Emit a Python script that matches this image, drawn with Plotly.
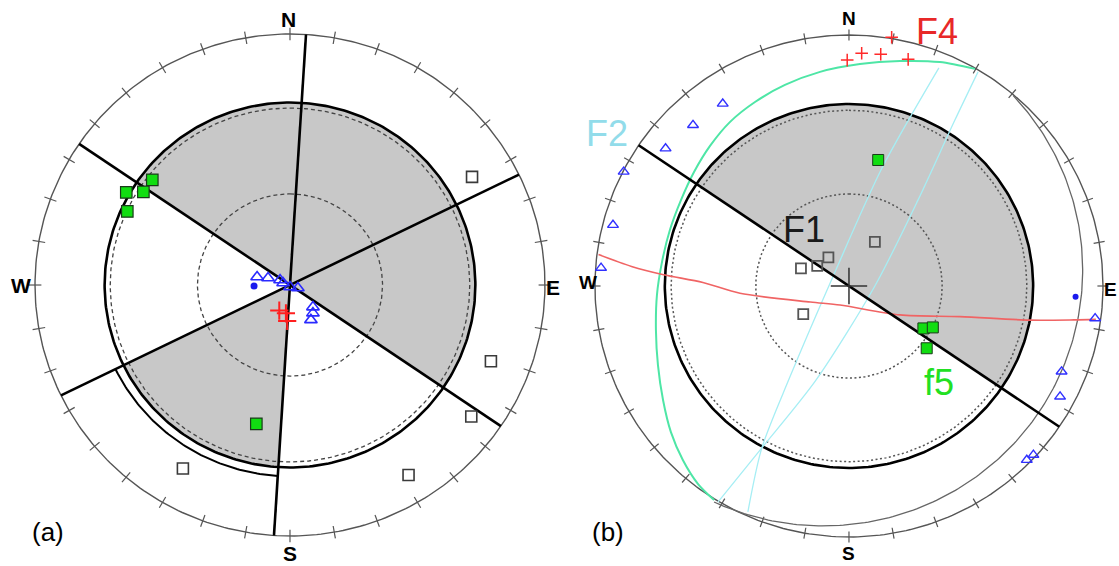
import numpy as np
import plotly.graph_objects as go

# ======================= DATA (normalised net coordinates: x = east, y = north, primitive radius = 1) =======================
# ---- panel (a) ----
A_PLANE_STRIKES = [3.6, 304.2, 63.9]                 # vertical planes, azimuth of strike (deg)
A_SHADED_SECTORS = [(-55.8, 124.2), (183.6, 243.9)]  # shaded azimuth ranges inside limit circle
A_LIMIT_RADIUS = 0.727
A_DASHED_RADII = [0.705, 0.363]
A_EXTRA_ARC = [0.762, 183.6, 243.9]                  # radius, azimuth from, azimuth to
A_GREEN_X = [-0.540, -0.642, -0.575, -0.638, -0.132]
A_GREEN_Y = [0.419, 0.369, 0.371, 0.293, -0.553]
A_OPEN_X = [0.714, 0.788, 0.711, -0.420, 0.465]
A_OPEN_Y = [0.431, -0.304, -0.524, -0.731, -0.757]
A_TRI_X = [-0.129, -0.086, -0.039, -0.027, 0.0, 0.031, 0.090, 0.090, 0.082]
A_TRI_Y = [0.032, 0.028, 0.020, 0.008, -0.008, -0.012, -0.088, -0.112, -0.139]
A_DOT_X = [-0.141]
A_DOT_Y = [-0.004]
A_CROSS_X = [-0.042, -0.016, -0.011]
A_CROSS_Y = [-0.102, -0.113, -0.143]

# ---- panel (b) ----
B_PLANE_STRIKES = [304.1]
B_SHADED_SECTORS = [(-55.9, 124.1)]
B_LIMIT_RADIUS = 0.725
B_DOTTED_RADII = [0.700, 0.367]
B_SECOND_CIRCLE = [-0.100, 0.064, 1.020, 43.0, -115.0]   # centre x, centre y, radius, angle from, angle to
B_GREEN_X = [0.115, 0.293, 0.330, 0.306]
B_GREEN_Y = [0.502, -0.169, -0.165, -0.248]
B_OPEN_X = [0.102, -0.189, -0.125, -0.081, -0.180]
B_OPEN_Y = [0.176, 0.070, 0.080, 0.114, -0.112]
B_TRI_X = [-0.497, -0.614, -0.722, -0.887, -0.929, -0.976, 0.969, 0.837, 0.831, 0.700, 0.726]
B_TRI_Y = [0.726, 0.641, 0.548, 0.455, 0.243, 0.072, -0.129, -0.341, -0.441, -0.693, -0.673]
B_DOT_X = [0.892]
B_DOT_Y = [-0.043]
B_CROSS_X = [-0.007, 0.050, 0.125, 0.233, 0.168]
B_CROSS_Y = [0.900, 0.927, 0.923, 0.903, 0.991]
F4_X = [-0.986, -0.856, -0.730, -0.575, -0.429, -0.152, -0.035, 0.201, 0.437, 0.713, 0.886, 0.972]
F4_Y = [0.125, 0.078, 0.045, 0.014, -0.029, -0.064, -0.076, -0.115, -0.122, -0.136, -0.135, -0.133]
F5_X = [0.496, 0.358, 0.201, 0.043, -0.114, -0.252, -0.370, -0.469, -0.547, -0.610, -0.661,
        -0.705, -0.736, -0.756, -0.760, -0.752, -0.732, -0.701, -0.654, -0.594, -0.531]
F5_Y = [0.865, 0.892, 0.896, 0.884, 0.853, 0.801, 0.733, 0.653, 0.558, 0.454, 0.343,
        0.223, 0.096, -0.036, -0.175, -0.315, -0.454, -0.582, -0.693, -0.789, -0.853]
F2A_X = [0.354, 0.130, -0.055, -0.236, -0.343, -0.398]
F2A_Y = [0.869, 0.470, 0.056, -0.371, -0.645, -0.900]
F2B_X = [0.508, 0.417, 0.272, 0.102, -0.130, -0.343, -0.516]
F2B_Y = [0.853, 0.661, 0.343, 0.0, -0.375, -0.645, -0.861]

TICK_STEP = 10
CARDINALS = ["N", "E", "S", "W"]
PANEL_LABELS = ["(a)", "(b)"]
FAULT_LABELS = ["F1", "F2", "F4", "f5"]

# ======================= FIGURE =======================
fig = go.Figure()
FONT = "Liberation Sans, Arial, sans-serif"


def xy(r, az):
    az = np.radians(np.asarray(az, dtype=float))
    return r * np.sin(az), r * np.cos(az)


def add(tr, p):
    tr.update(xaxis="x" if p == "a" else "x2", yaxis="y" if p == "a" else "y2",
              hoverinfo="skip", showlegend=False)
    fig.add_trace(tr)


def circle(p, r, color, width, dash="solid"):
    t = np.linspace(0, 360, 361)
    x, y = xy(r, t)
    add(go.Scatter(x=x, y=y, mode="lines", line=dict(color=color, width=width, dash=dash)), p)


def sectors(p, secs, r):
    for a0, a1 in secs:
        t = np.linspace(a0, a1, 200)
        x, y = xy(r, t)
        add(go.Scatter(x=np.r_[0, x, 0], y=np.r_[0, y, 0], mode="lines", fill="toself",
                       fillcolor="#c8c8c8", line=dict(width=0, color="#c8c8c8")), p)


def ticks(p, color, inner, outer, width):
    xs, ys = [], []
    for az in range(0, 360, TICK_STEP):
        x0, y0 = xy(inner, az)
        x1, y1 = xy(outer, az)
        xs += [x0, x1, None]
        ys += [y0, y1, None]
    add(go.Scatter(x=xs, y=ys, mode="lines", line=dict(color=color, width=width)), p)


def planes(p, strikes):
    xs, ys = [], []
    for s in strikes:
        x0, y0 = xy(1.0, s)
        x1, y1 = xy(1.0, s + 180)
        xs += [x0, x1, None]
        ys += [y0, y1, None]
    add(go.Scatter(x=xs, y=ys, mode="lines", line=dict(color="black", width=2.6)), p)


# ---------- panel (a) ----------
sectors("a", A_SHADED_SECTORS, A_LIMIT_RADIUS)
circle("a", 1.0, "#555555", 1.4)
ticks("a", "#555555", 0.975, 1.025, 1.2)
circle("a", A_DASHED_RADII[0], "#444444", 1.3, "4px,3px")
circle("a", A_DASHED_RADII[1], "#444444", 1.3, "4px,3px")
circle("a", A_LIMIT_RADIUS, "black", 2.6)
ta = np.linspace(A_EXTRA_ARC[1], A_EXTRA_ARC[2], 80)
xa, ya = xy(A_EXTRA_ARC[0], ta)
add(go.Scatter(x=xa, y=ya, mode="lines", line=dict(color="black", width=2)), "a")
planes("a", A_PLANE_STRIKES)
add(go.Scatter(x=A_OPEN_X, y=A_OPEN_Y, mode="markers",
               marker=dict(symbol="square-open", size=11, color="#3a3a3a", line=dict(width=1.6))), "a")
add(go.Scatter(x=A_GREEN_X, y=A_GREEN_Y, mode="markers",
               marker=dict(symbol="square", size=11.5, color="#11dd11", line=dict(color="#1a3a1a", width=1.2))), "a")
add(go.Scatter(x=A_TRI_X, y=A_TRI_Y, mode="markers",
               marker=dict(symbol="triangle-up-open", size=11, color="#2a2aff", line=dict(width=1.6))), "a")
add(go.Scatter(x=A_DOT_X, y=A_DOT_Y, mode="markers", marker=dict(symbol="circle", size=7, color="#1a1aee")), "a")
add(go.Scatter(x=A_CROSS_X, y=A_CROSS_Y, mode="markers",
               marker=dict(symbol="cross-thin-open", size=13, color="#ff2020", line=dict(width=2))), "a")

# ---------- panel (b) ----------
sectors("b", B_SHADED_SECTORS, B_LIMIT_RADIUS)
circle("b", 1.0, "#555555", 1.4)
ticks("b", "#555555", 0.978, 1.022, 1.2)
cx, cy, rr, t0, t1 = B_SECOND_CIRCLE
tt = np.radians(np.linspace(t0, t1, 200))
add(go.Scatter(x=cx + rr * np.cos(tt), y=cy + rr * np.sin(tt), mode="lines",
               line=dict(color="#666666", width=1.3)), "b")
circle("b", B_DOTTED_RADII[0], "#555555", 1.5, "2px,2.5px")
circle("b", B_DOTTED_RADII[1], "#555555", 1.5, "2px,2.5px")
circle("b", B_LIMIT_RADIUS, "black", 2.6)
add(go.Scatter(x=F2A_X, y=F2A_Y, mode="lines",
               line=dict(color="#a6eef4", width=1.3, shape="spline", smoothing=0.8)), "b")
add(go.Scatter(x=F2B_X, y=F2B_Y, mode="lines",
               line=dict(color="#a6eef4", width=1.3, shape="spline", smoothing=0.8)), "b")
add(go.Scatter(x=F5_X, y=F5_Y, mode="lines",
               line=dict(color="#4ee6a6", width=2, shape="spline", smoothing=0.8)), "b")
add(go.Scatter(x=F4_X, y=F4_Y, mode="lines",
               line=dict(color="#f06464", width=1.6, shape="spline", smoothing=0.8)), "b")
planes("b", B_PLANE_STRIKES)
add(go.Scatter(x=[0], y=[0], mode="markers",
               marker=dict(symbol="cross-thin-open", size=26, color="#333333", line=dict(width=1.5))), "b")
add(go.Scatter(x=B_OPEN_X, y=B_OPEN_Y, mode="markers",
               marker=dict(symbol="square-open", size=10, color="#555555", line=dict(width=1.8))), "b")
add(go.Scatter(x=B_GREEN_X, y=B_GREEN_Y, mode="markers",
               marker=dict(symbol="square", size=11, color="#11dd11", line=dict(color="#1a3a1a", width=1))), "b")
add(go.Scatter(x=B_TRI_X, y=B_TRI_Y, mode="markers",
               marker=dict(symbol="triangle-up-open", size=9.5, color="#3030ff", line=dict(width=1.4))), "b")
add(go.Scatter(x=B_DOT_X, y=B_DOT_Y, mode="markers", marker=dict(symbol="circle", size=6, color="#1a1aee")), "b")
add(go.Scatter(x=B_CROSS_X, y=B_CROSS_Y, mode="markers",
               marker=dict(symbol="cross-thin-open", size=9, color="#ff2a2a", line=dict(width=1.5))), "b")

# ---------- text ----------
ann = []


def label(p, x, y, text, size, color="black", bold=False):
    t = "<b>%s</b>" % text if bold else text
    ann.append(dict(x=x, y=y, xref="x" if p == "a" else "x2", yref="y" if p == "a" else "y2",
                    text=t, showarrow=False, font=dict(family=FONT, size=size, color=color),
                    xanchor="center", yanchor="middle"))


A_CARD_POS = [(-0.004, 1.058), (1.031, -0.008), (0.0, -1.068), (-1.056, 0.0)]
B_CARD_POS = [(0.0, 1.064), (1.030, -0.012), (0.0, -1.064), (-1.028, 0.012)]
for c, (x, y) in zip(CARDINALS, A_CARD_POS):
    label("a", x, y, c, 21, bold=True)
for c, (x, y) in zip(CARDINALS, B_CARD_POS):
    label("b", x, y, c, 19, bold=True)
label("a", -0.951, -0.985, PANEL_LABELS[0], 26)
label("b", -0.949, -0.981, PANEL_LABELS[1], 26)
FAULT_POS = [(-0.177, 0.225), (-0.951, 0.606), (0.348, 1.014), (0.354, -0.385)]
FAULT_COL = ["#1a1a1a", "#92dcea", "#e82828", "#22e022"]
for t, (x, y), col in zip(FAULT_LABELS, FAULT_POS, FAULT_COL):
    label("b", x, y, t, 36, color=col)

fig.update_layout(
    width=1119, height=566, autosize=False,
    margin=dict(l=0, r=0, t=0, b=0, pad=0),
    paper_bgcolor="white", plot_bgcolor="white", showlegend=False,
    annotations=ann,
    xaxis=dict(domain=[0, 0.5165], range=[-1.1373, 1.1294], visible=False, anchor="y"),
    yaxis=dict(domain=[0, 1], range=[-1.1195, 1.1355], visible=False, anchor="x"),
    xaxis2=dict(domain=[0.5165, 1], range=[-1.0669, 1.063], visible=False, anchor="y2"),
    yaxis2=dict(domain=[0, 1], range=[-1.1155, 1.1394], visible=False, anchor="x2"),
)

fig.write_html("out.html", config={"displayModeBar": False},
               post_script="document.body.style.margin='0';document.body.style.overflow='hidden';")
